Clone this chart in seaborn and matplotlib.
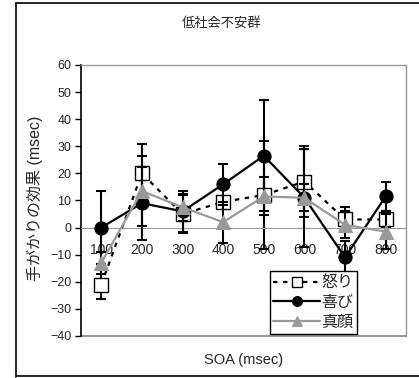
import matplotlib
matplotlib.use('Agg')
import matplotlib.pyplot as plt
import seaborn as sns
from matplotlib.lines import Line2D

sns.set_style('white')
plt.rcParams['font.family'] = ['Liberation Sans', 'Noto Sans CJK JP', 'DejaVu Sans']

# data
soa = ['100', '200', '300', '400', '500', '600', '700', '800']
anger = [-21, 20, 5, 9.5, 12, 17, 3, 3]
anger_se = [5.5, 11, 7, 1.5, 20, 13, 4.5, 3]
happy = [0, 9, 6, 16, 26.5, 11, -11, 11.5]
happy_se = [13.5, 13.5, 7.5, 7.5, 20.5, 18, 6, 5.5]
neutral = [-13, 13.5, 7.5, 2, 11.5, 11, 1, -1.5]
neutral_se = [4, 13, 5, 7.5, 7, 5, 5, 6.5]

pos = list(range(len(soa)))
gray = '#999999'

fig = plt.figure(figsize=(4.19, 3.78), dpi=100)
ax = fig.add_axes([81 / 419, 1 - 336 / 378, 325 / 419, 271 / 378])

series = [
    ('怒り', anger, anger_se, dict(color='black', marker='s', markersize=9.5,
                                  markerfacecolor='white', markeredgecolor='black',
                                  markeredgewidth=1, linestyle=(0, (2, 2.5)), linewidth=1.6)),
    ('喜び', happy, happy_se, dict(color='black', marker='o', markersize=9.5,
                                  markerfacecolor='black', markeredgecolor='black',
                                  linestyle='-', linewidth=1.6)),
    ('真顔', neutral, neutral_se, dict(color=gray, marker='^', markersize=10,
                                    markerfacecolor=gray, markeredgecolor=gray,
                                    linestyle='-', linewidth=1.6)),
]

z = 2
for name, vals, se, style in series:
    ax.errorbar(pos, vals, yerr=se, fmt='none', ecolor='black',
                elinewidth=1.5, capsize=3.5, capthick=1.5, zorder=z)
    sns.lineplot(x=pos, y=vals, ax=ax, label=name, zorder=z + 1, **style)
    z += 2

ax.set_xlim(-0.5, 7.5)
ax.set_ylim(-40, 60)
ax.set_yticks(range(-40, 61, 10))
ax.set_xticks(pos)
ax.set_xticklabels(soa, fontsize=11)
ax.set_xticks([p + 0.5 for p in pos[:-1]], minor=True)
ax.tick_params(axis='x', which='major', length=0, pad=11)
ax.tick_params(axis='x', which='minor', direction='in', length=4, color=gray, width=1)
ax.tick_params(axis='y', direction='out', length=4, width=1, labelsize=9, pad=3,
               left=True, color='black')
ax.set_xlabel('')
ax.set_ylabel('')

ax.spines['bottom'].set_position(('data', 0))
ax.spines['bottom'].set_color(gray)
ax.spines['left'].set_color('black')
ax.spines['left'].set_linewidth(1.2)
for s in ['top', 'right']:
    ax.spines[s].set_color(gray)
    ax.spines[s].set_linewidth(1)
ax.axhline(-40, color=gray, linewidth=1.5, clip_on=False, zorder=1)

leg = ax.legend(loc='lower left', bbox_to_anchor=(0.58, 0.008), fontsize=11.5,
                frameon=True, fancybox=False, edgecolor='black', framealpha=1,
                handlelength=2.9, handletextpad=0.1, borderpad=0.25,
                labelspacing=0.3, borderaxespad=0, markerscale=0.75)
leg.get_frame().set_linewidth(1)

fig.text(222 / 419, 1 - 23 / 378, '低社会不安群', ha='center', va='center', fontsize=9.5)
fig.text(244 / 419, 1 - 360 / 378, 'SOA (msec)', ha='center', va='center', fontsize=10.5)
fig.text(35 / 419, 1 - 198 / 378, '手がかりの効果 (msec)', ha='center', va='center',
         rotation=90, fontsize=11.5)

# outer frame
for xs, ys in [([16 / 419, 16 / 419], [0.003, 0.992]),
               ([16 / 419, 1], [0.992, 0.992]),
               ([16 / 419, 1], [0.005, 0.005])]:
    fig.add_artist(Line2D(xs, ys, color='black', linewidth=1.2, transform=fig.transFigure))

plt.savefig('out.png', dpi=100)
